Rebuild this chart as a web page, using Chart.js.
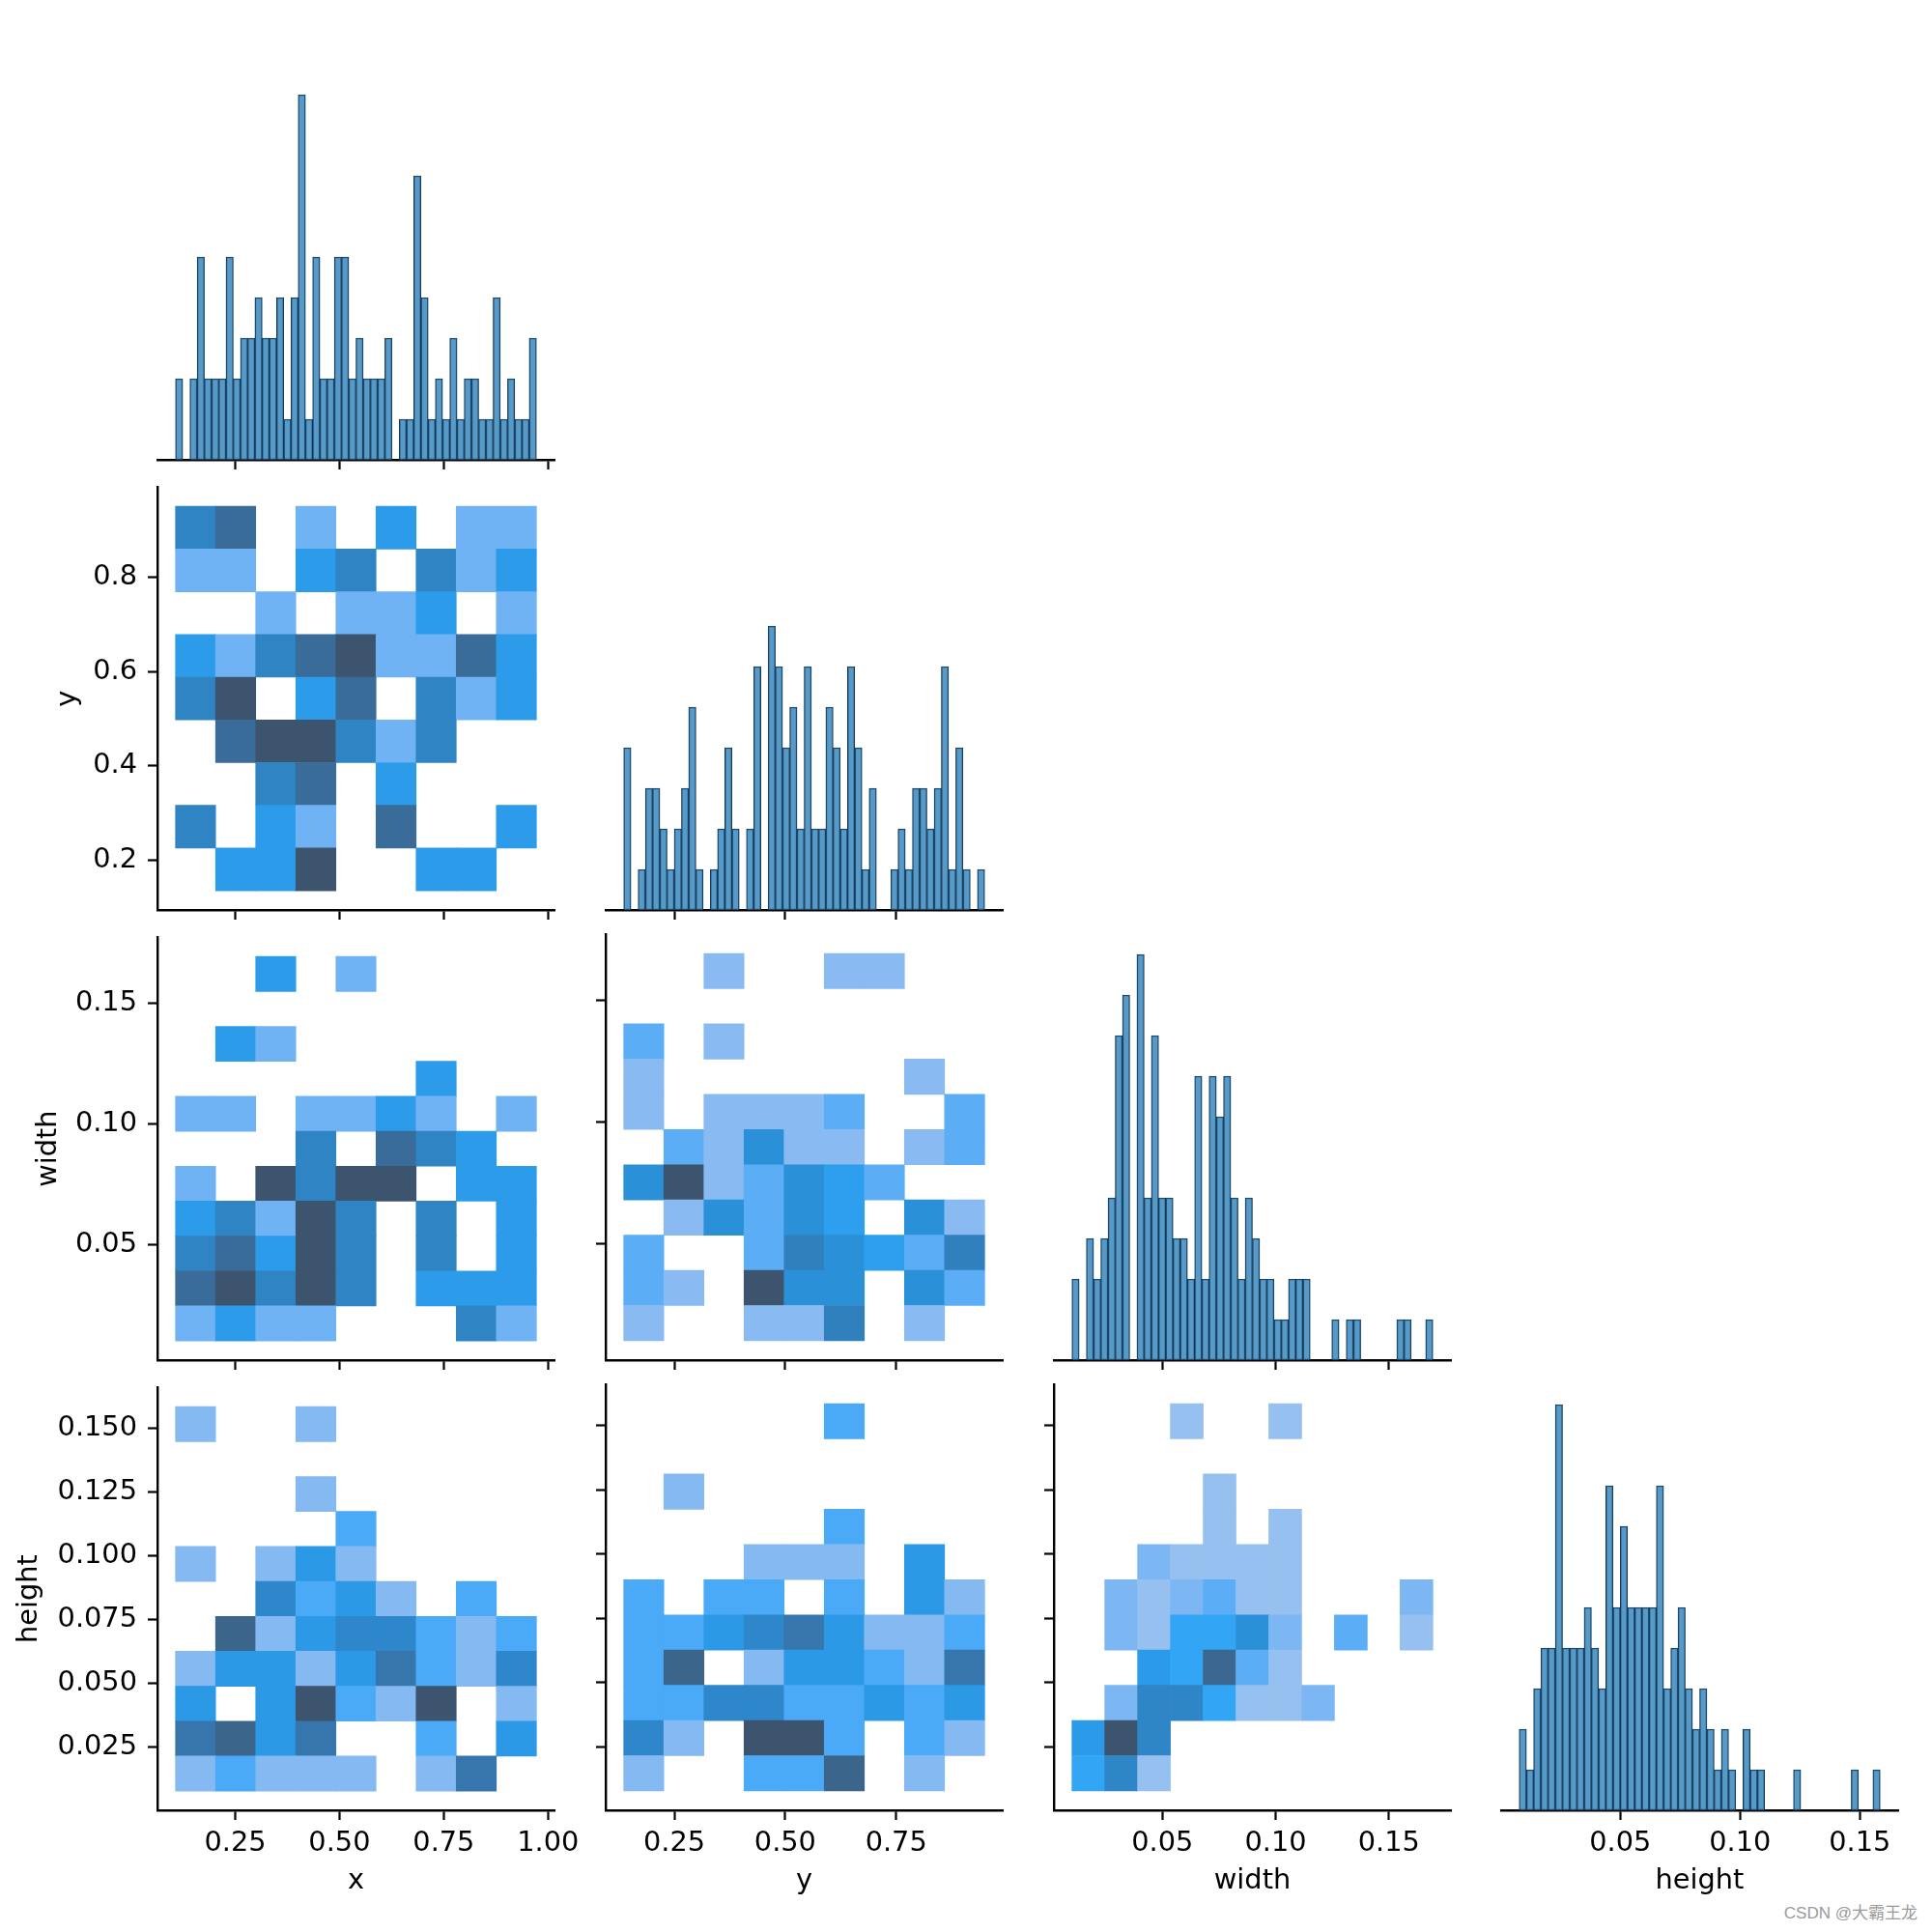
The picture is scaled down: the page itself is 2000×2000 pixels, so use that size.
<!DOCTYPE html>
<html>
<head>
<meta charset="utf-8">
<script src="https://cdn.jsdelivr.net/npm/chart.js@4.4.1/dist/chart.umd.min.js"></script>
<style>
  html, body { margin: 0; padding: 0; background: #fff; }
  #fig { position: relative; width: 2000px; height: 2000px; background: #fff; overflow: hidden; }
  #fig canvas { position: absolute; }
  #mark { position: absolute; right: 15px; top: 1972px; font: 17px 'Liberation Sans', 'Noto Sans CJK SC', sans-serif; line-height: 17px; color: #9a9a9a; }
</style>
</head>
<body>
<div id="fig"><div id="mark">CSDN @大霸王龙</div></div>
<script>
// pairplot (corner) of box labels: x, y, width, height

const varNames = ['x', 'y', 'width', 'height'];
const dataMin = [0.1069, 0.1360, 0.0101, 0.0078];
const dataMax = [0.9722, 0.9495, 0.1694, 0.1585];
const gridBins = [9, 9, 11, 11];   // bins of the 2D histograms, per variable

// diagonal histograms, 50 bins each
const xCounts = [2,0,2,5,2,2,2,5,2,3, 3,4,3,3,4,1,4,9,1,5, 2,2,5,5,2,3,2,2,2,3, 0,1,1,7,4,1,2,1,3,1, 2,2,1,1,4,1,2,1,1,3];
const yCounts = [4,0,1,3,3,2,1,2,3,5, 1,0,1,2,4,2,0,2,6,0, 7,6,4,5,2,6,2,2,5,4, 2,6,4,1,3,0,0,1,2,1, 3,3,2,3,6,1,4,1,0,1];
const widthCounts = [2,0,3,2,3,4,8,9,0,10, 4,8,4,4,3,3,2,7,2,7, 6,7,4,2,4,3,2,2,1,1, 2,2,2,0,0,0,1,0,1,1, 0,0,0,0,0,1,1,0,0,1];
const heightCounts = [2,1,3,4,4,10,4,4,4,5, 4,3,8,5,7,5,5,5,5,8, 3,4,5,3,2,3,2,1,2,1, 0,2,1,1,0,0,0,0,1,0, 0,0,0,0,0,0,1,0,0,1];

// 2D histograms: one row per vertical bin, listed from the top bin down
const xyGrid = [
  [3,4,0,1,0,2,0,1,1],
  [1,1,0,2,3,0,3,1,2],
  [0,0,1,0,1,1,2,0,1],
  [2,1,3,4,5,1,1,4,2],
  [3,5,0,2,4,0,3,1,2],
  [0,4,5,5,3,1,3,0,0],
  [0,0,3,4,0,2,0,0,0],
  [3,0,2,1,0,4,0,0,2],
  [0,2,2,5,0,0,2,2,0]
];
const xWidthGrid = [
  [0,0,2,0,1,0,0,0,0],
  [0,0,0,0,0,0,0,0,0],
  [0,2,1,0,0,0,0,0,0],
  [0,0,0,0,0,0,2,0,0],
  [1,1,0,1,1,2,1,0,1],
  [0,0,0,3,0,4,3,2,0],
  [1,0,5,3,5,5,0,2,2],
  [2,3,1,5,3,0,3,0,2],
  [3,4,2,5,3,0,3,0,2],
  [4,5,3,5,3,0,2,2,2],
  [1,2,1,1,0,0,0,3,1]
];
const yWidthGrid = [
  [0,0,1,0,0,1,1,0,0],
  [0,0,0,0,0,0,0,0,0],
  [2,0,1,0,0,0,0,0,0],
  [1,0,0,0,0,0,0,1,0],
  [1,0,1,1,1,2,0,0,2],
  [0,2,1,4,1,1,0,1,2],
  [4,8,1,2,4,3,2,0,0],
  [0,1,4,2,4,3,0,4,1],
  [2,0,0,2,5,4,3,2,5],
  [2,1,0,8,4,4,0,4,2],
  [1,0,0,1,1,5,0,1,0]
];
const xHeightGrid = [
  [1,0,0,1,0,0,0,0,0],
  [0,0,0,0,0,0,0,0,0],
  [0,0,0,1,0,0,0,0,0],
  [0,0,0,0,2,0,0,0,0],
  [1,0,1,3,1,0,0,0,0],
  [0,0,4,2,3,1,0,2,0],
  [0,6,1,3,4,4,2,1,2],
  [1,3,3,1,3,5,2,1,4],
  [3,0,3,7,2,1,7,0,1],
  [5,6,3,5,0,0,2,0,3],
  [1,2,1,1,1,0,1,5,0]
];
const yHeightGrid = [
  [0,0,0,0,0,2,0,0,0],
  [0,0,0,0,0,0,0,0,0],
  [0,1,0,0,0,0,0,0,0],
  [0,0,0,0,0,2,0,0,0],
  [0,0,0,1,1,1,0,3,0],
  [2,0,2,2,0,2,0,3,1],
  [2,2,3,4,5,3,1,1,2],
  [2,6,0,1,3,3,2,1,5],
  [2,2,4,4,2,2,3,2,3],
  [4,1,0,7,7,2,0,2,1],
  [1,0,0,2,2,6,0,1,0]
];
const widthHeightGrid = [
  [0,0,0,1,0,0,1,0,0,0,0],
  [0,0,0,0,0,0,0,0,0,0,0],
  [0,0,0,0,1,0,0,0,0,0,0],
  [0,0,0,0,1,0,1,0,0,0,0],
  [0,0,2,1,1,1,1,0,0,0,0],
  [0,2,1,2,3,1,1,0,0,0,2],
  [0,2,1,4,4,6,2,0,3,0,1],
  [0,0,5,4,10,3,1,0,0,0,0],
  [0,2,7,7,4,1,1,2,0,0,0],
  [5,12,7,0,0,0,0,0,0,0,0],
  [4,7,1,0,0,0,0,0,0,0,0]
];

// tick values and labels
const xTicks = [0.25, 0.50, 0.75, 1.00];
const xTickLabels = ['0.25', '0.50', '0.75', '1.00'];
const yTicksBottom = [0.25, 0.50, 0.75];
const yTickLabelsBottom = ['0.25', '0.50', '0.75'];
const yTicksLeft = [0.2, 0.4, 0.6, 0.8];
const yTickLabelsLeft = ['0.2', '0.4', '0.6', '0.8'];
const widthTicks = [0.05, 0.10, 0.15];
const widthTickLabels = ['0.05', '0.10', '0.15'];
const heightTicksBottom = [0.05, 0.10, 0.15];
const heightTickLabelsBottom = ['0.05', '0.10', '0.15'];
const heightTicksLeft = [0.025, 0.050, 0.075, 0.100, 0.125, 0.150];
const heightTickLabelsLeft = ['0.025', '0.050', '0.075', '0.100', '0.125', '0.150'];

// ---- layout of the grid of axes (pixels) ----
const colLeft = [163, 627, 1091, 1554];
const rowTop = [35, 501, 967, 1433];
const axW = 411, axH = 441;
const padL = 160, padR = 45, padT = 25, padB = 115;
const yTitlePad = [0, 50, 30, 10];

const histCounts = [xCounts, yCounts, widthCounts, heightCounts];
const bottomTicks = [xTicks, yTicksBottom, widthTicks, heightTicksBottom];
const bottomLabels = [xTickLabels, yTickLabelsBottom, widthTickLabels, heightTickLabelsBottom];
const leftTicks = [xTicks, yTicksLeft, widthTicks, heightTicksLeft];
const leftLabels = [xTickLabels, yTickLabelsLeft, widthTickLabels, heightTickLabelsLeft];

const limits = v => {
    const r = dataMax[v] - dataMin[v];
    return [dataMin[v] - 0.05 * r, dataMax[v] + 0.05 * r];
};
const diagTop = 1.05 * Math.max(...histCounts.map(c => Math.max(...c)));

// ---- seaborn-style colormap (husl ramp from the base colour) ----
const hM = [[3.2406, -1.5372, -0.4986], [-0.9689, 1.8758, 0.0415], [0.0557, -0.2040, 1.0570]];
const hMinv = [[0.4124, 0.3576, 0.1805], [0.2126, 0.7152, 0.0722], [0.0193, 0.1192, 0.9505]];
const refU = 0.19784, refV = 0.46834, labE = 0.008856, labK = 903.3;

function maxChroma(L, H) {
    const hrad = H / 180 * Math.PI, sinH = Math.sin(hrad), cosH = Math.cos(hrad);
    const sub1 = Math.pow(L + 16, 3) / 1560896;
    const sub2 = sub1 > labE ? sub1 : L / labK;
    let result = Infinity;
    for (const [m1, m2, m3] of hM) {
        const top = (0.99915 * m1 + 1.05122 * m2 + 1.14460 * m3) * sub2;
        const rbottom = 0.86330 * m3 - 0.17266 * m2;
        const lbottom = 0.12949 * m3 - 0.38848 * m1;
        const bottom = (rbottom * sinH + lbottom * cosH) * sub2;
        for (const t of [0, 1]) {
            const C = L * (top - 1.05122 * t) / (bottom + 0.17266 * sinH * t);
            if (C > 0 && C < result) result = C;
        }
    }
    return result;
}

function huslToRgb(H, S, L) {
    if (L > 99.9999) return [1, 1, 1];
    if (L < 1e-8) return [0, 0, 0];
    const C = maxChroma(L, H) / 100 * S;
    const hrad = H / 180 * Math.PI;
    const U = Math.cos(hrad) * C, V = Math.sin(hrad) * C;
    const t = (L + 16) / 116;
    const Y = Math.pow(t, 3) > labE ? Math.pow(t, 3) : (116 * t - 16) / labK;
    const varU = U / (13 * L) + refU;
    const varV = V / (13 * L) + refV;
    const X = -(9 * Y * varU) / ((varU - 4) * varV - varU * varV);
    const Z = (9 * Y - 15 * varV * Y - varV * X) / (3 * varV);
    return hM.map(r => {
        const c = r[0] * X + r[1] * Y + r[2] * Z;
        return c <= 0.0031308 ? 12.92 * c : 1.055 * Math.pow(c, 1 / 2.4) - 0.055;
    });
}

function rgbToHusl(r, g, b) {
    const lin = [r, g, b].map(c => c > 0.04045 ? Math.pow((c + 0.055) / 1.055, 2.4) : c / 12.92);
    const [X, Y, Z] = hMinv.map(row => row[0] * lin[0] + row[1] * lin[1] + row[2] * lin[2]);
    const den = X + 15 * Y + 3 * Z;
    const L = 116 * (Y > labE ? Math.cbrt(Y) : 7.787 * Y + 16 / 116) - 16;
    const U = 13 * L * (4 * X / den - refU);
    const V = 13 * L * (9 * Y / den - refV);
    let H = Math.atan2(V, U) * 180 / Math.PI;
    if (H < 0) H += 360;
    return [H, Math.hypot(U, V) / maxChroma(L, H) * 100, L];
}

const baseHusl = rgbToHusl(31 / 255, 119 / 255, 180 / 255);
const ramp = [];
for (let j = 0; j < 256; j++) {
    const xx = -1 + 2 * j / 293;
    const L = 35 + 45 * j / 255;
    const c = huslToRgb(baseHusl[0], baseHusl[1] * Math.cos(xx), L).map(v => Math.round(255 * Math.min(1, Math.max(0, v))));
    ramp.push(`rgb(${c[0]},${c[1]},${c[2]})`);
}
ramp.reverse();
const cmap = frac => ramp[Math.max(0, Math.min(255, Math.floor(frac * 256)))];

// ---- axes ----
Chart.defaults.font.family = 'DejaVu Sans';
const tickFont = { family: 'DejaVu Sans', size: 28.8 };
const labelFont = { family: 'DejaVu Sans', size: 28.8 };

function bottomAxis(v, showLabels) {
    const [mn, mx] = limits(v);
    return {
        type: 'linear', position: 'bottom', min: mn, max: mx, offset: false,
        afterBuildTicks: s => { s.ticks = bottomTicks[v].map(value => ({ value })); },
        afterFit: s => { s.height = padB; },
        border: { display: true, color: '#000', width: 2.4 },
        grid: { display: true, offset: false, drawOnChartArea: false, drawTicks: true, tickLength: 10, tickWidth: 2.2, tickColor: '#000' },
        ticks: { display: showLabels, autoSkip: false, maxRotation: 0, minRotation: 0, padding: 7.5, color: '#000', font: tickFont,
                 callback: (val, i) => bottomLabels[v][i] },
        title: { display: showLabels, text: varNames[v], color: '#000', font: labelFont, padding: { top: 0, bottom: 24 } }
    };
}

function leftAxis(v, showLabels, titlePad) {
    const [mn, mx] = limits(v);
    return {
        type: 'linear', position: 'left', min: mn, max: mx,
        afterBuildTicks: s => { s.ticks = leftTicks[v].map(value => ({ value })); },
        afterFit: s => { s.width = padL; },
        border: { display: true, color: '#000', width: 2.4 },
        grid: { display: true, drawOnChartArea: false, drawTicks: true, tickLength: 10, tickWidth: 2.2, tickColor: '#000' },
        ticks: { display: showLabels, autoSkip: false, padding: 11, color: '#000', font: tickFont,
                 callback: (val, i) => leftLabels[v][i] },
        title: { display: showLabels, text: varNames[v], color: '#000', font: labelFont, padding: { top: titlePad, bottom: 0 } }
    };
}

function countAxis() {
    return {
        type: 'linear', position: 'left', min: 0, max: diagTop,
        afterFit: s => { s.width = padL; },
        border: { display: false }, grid: { display: false }, ticks: { display: false }
    };
}

const fig = document.getElementById('fig');

function addPanel(row, col, dataset, xAxis, yAxis) {
    const cv = document.createElement('canvas');
    cv.width = padL + axW + padR;
    cv.height = padT + axH + padB;
    cv.style.left = (colLeft[col] - padL) + 'px';
    cv.style.top = (rowTop[row] - padT) + 'px';
    fig.appendChild(cv);
    new Chart(cv, {
        type: 'bar',
        data: { datasets: [dataset] },
        options: {
            responsive: false, animation: false, devicePixelRatio: 1, events: [],
            layout: { padding: { left: 0, top: padT, right: padR, bottom: 0 } },
            plugins: { legend: { display: false }, tooltip: { enabled: false } },
            scales: { x: xAxis, y: yAxis }
        }
    });
}

// diagonal: 1D histograms
for (let v = 0; v < 4; v++) {
    const counts = histCounts[v];
    const bw = (dataMax[v] - dataMin[v]) / counts.length;
    addPanel(v, v, {
        data: counts.map((c, i) => ({ x: dataMin[v] + (i + 0.5) * bw, y: c })),
        backgroundColor: 'rgba(31,119,180,0.75)',
        borderColor: '#1d3042',
        borderWidth: 0.9,
        borderSkipped: false,
        barPercentage: 1, categoryPercentage: 1
    }, bottomAxis(v, v === 3), countAxis());
}

// lower triangle: 2D histograms
const pairs = [
    [1, 0, xyGrid], [2, 0, xWidthGrid], [2, 1, yWidthGrid],
    [3, 0, xHeightGrid], [3, 1, yHeightGrid], [3, 2, widthHeightGrid]
];
for (const [row, col, grid] of pairs) {
    const nx = gridBins[col], ny = gridBins[row];
    const bx = (dataMax[col] - dataMin[col]) / nx;
    const by = (dataMax[row] - dataMin[row]) / ny;
    const vmax = Math.max(...grid.flat());
    const cells = [];
    grid.forEach((line, r) => {
        const j = ny - 1 - r;
        line.forEach((c, i) => {
            if (c > 0) cells.push({
                x: dataMin[col] + (i + 0.5) * bx,
                y: [dataMin[row] + j * by, dataMin[row] + (j + 1) * by],
                c
            });
        });
    });
    addPanel(row, col, {
        data: cells,
        backgroundColor: ctx => cmap(ctx.raw.c / vmax),
        borderWidth: 0,
        barPercentage: 1, categoryPercentage: 1
    }, bottomAxis(col, row === 3), leftAxis(row, col === 0, yTitlePad[row]));
}
</script>
</body>
</html>
